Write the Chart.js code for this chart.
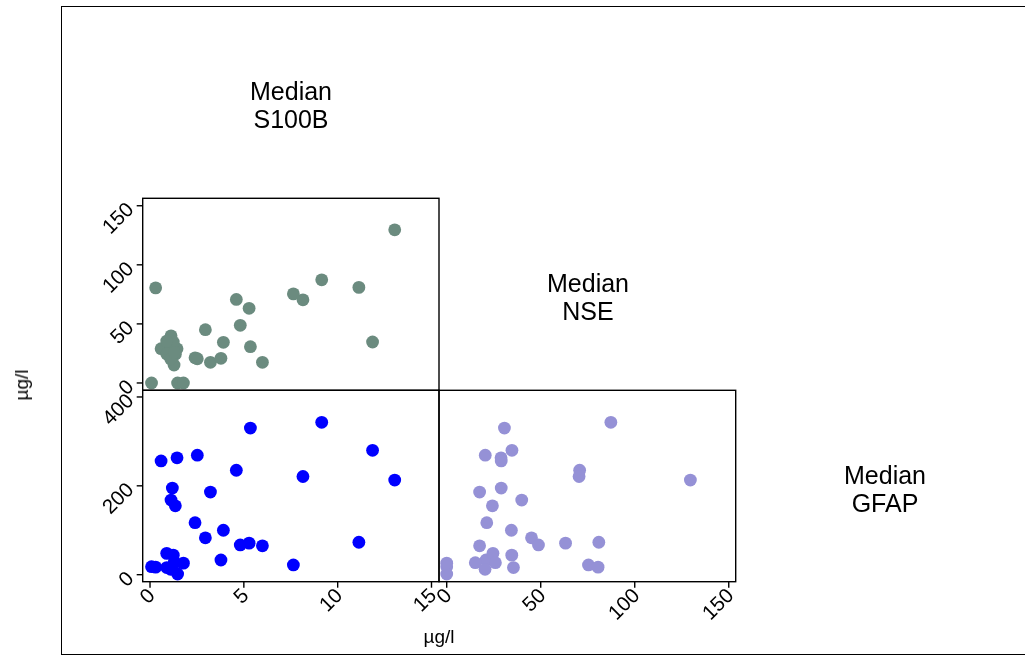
<!DOCTYPE html>
<html>
<head>
<meta charset="utf-8">
<script src="https://cdn.jsdelivr.net/npm/chart.js@4/dist/chart.umd.min.js"></script>
<style>
  html, body { margin: 0; padding: 0; background: #fff; }
  #wrap { position: relative; width: 1025px; height: 655px; overflow: hidden; font-family: "Liberation Sans", Arial, sans-serif; }
  #wrap canvas { position: absolute; left: 0; top: 0; }
  .frame { position: absolute; left: 61px; top: 6px; width: 1100px; height: 649px; border: 1.5px solid #000; box-sizing: border-box; }
  .diag { position: absolute; width: 200px; text-align: center; font-size: 25px; line-height: 28px; color: #000; }
  .axt { position: absolute; font-size: 19px; color: #000; white-space: nowrap; }
</style>
</head>
<body>
<div id="wrap">
  <div class="frame"></div>
  <canvas id="pA" width="1025" height="655"></canvas>
  <canvas id="pB" width="1025" height="655"></canvas>
  <canvas id="pC" width="1025" height="655"></canvas>
  <div class="diag" style="left:191px; top:77px;">Median<br>S100B</div>
  <div class="diag" style="left:488px; top:269px;">Median<br>NSE</div>
  <div class="diag" style="left:785px; top:461px;">Median<br>GFAP</div>
  <div class="axt" style="left:22px; top:385px; transform: translate(-50%, -50%) rotate(-90deg);">µg/l</div>
  <div class="axt" style="left:439px; top:637px; transform: translate(-50%, -50%);">µg/l</div>
</div>
<script>
// per-patient medians, µg/l
const s100b = [9.15, 5.35, 11.86, 2.52, 1.44, 0.59, 4.6, 8.15, 13.04, 1.19, 3.22, 1.12, 1.35, 2.4, 3.91, 2.95,
  4.81, 5.28, 5.99, 11.13, 3.78, 7.64, 0.08, 1.47, 1.78, 0.3, 0.89, 1.24, 1.28, 0.89, 1.1, 1.3];
const nse = [87.3, 30.7, 34.7, 20.5, 28.9, 29.0, 70.7, 70.4, 129.6, 29.0, 17.5, 39.9, 24.3, 21.3, 34.4, 45.1,
  48.8, 63.2, 17.5, 80.9, 20.9, 75.4, 0, 0, 0, 80.5, 24.6, 34.6, 15.2, 35.5, 20.4, 25.9];
const gfap = [343, 330, 280, 269, 263, 256, 235, 221, 213, 195, 186, 168, 155, 117, 100, 83,
  67, 71, 65, 73, 33, 22, 18, 1.5, 26, 17, 48, 44, 27, 16, 12, 27];

const s100bTicks = [0, 5, 10, 15];
const nseTicks = [0, 50, 100, 150];
const gfapTicks = [0, 200, 400];

const pairs = (xs, ys) => xs.map((v, i) => ({ x: v, y: ys[i] }));

// box, tick marks and 45° tick labels for each panel
const panelAxes = {
    id: "panelAxes",
    afterDatasetsDraw(chart, args, opts) {
        const ctx = chart.ctx;
        const a = chart.chartArea;
        const xs = chart.scales.x;
        const ys = chart.scales.y;
        ctx.save();
        ctx.strokeStyle = "#000";
        ctx.lineWidth = 1.4;
        ctx.strokeRect(a.left, a.top, a.right - a.left, a.bottom - a.top);
        ctx.fillStyle = "#000";
        ctx.font = "20.5px 'Liberation Sans', Arial, sans-serif";
        ctx.textAlign = "right";
        ctx.textBaseline = "middle";
        (opts.xTicks || []).forEach((t) => {
            const px = xs.getPixelForValue(t);
            ctx.beginPath();
            ctx.moveTo(px, a.bottom);
            ctx.lineTo(px, a.bottom + 6);
            ctx.stroke();
            ctx.save();
            ctx.translate(px + 2, a.bottom + 11);
            ctx.rotate(-Math.PI / 4);
            ctx.fillText(String(t), 0, 0);
            ctx.restore();
        });
        (opts.yTicks || []).forEach((t) => {
            const py = ys.getPixelForValue(t);
            ctx.beginPath();
            ctx.moveTo(a.left - 6, py);
            ctx.lineTo(a.left, py);
            ctx.stroke();
            ctx.save();
            ctx.translate(a.left - 12, py + 1);
            ctx.rotate(-Math.PI / 4);
            ctx.fillText(String(t), 0, 0);
            ctx.restore();
        });
        ctx.restore();
    },
};

function panel(id, data, color, xRange, yRange, pad, xTicks, yTicks) {
    return new Chart(document.getElementById(id), {
        type: "scatter",
        data: {
            datasets: [{
                data: data,
                backgroundColor: color,
                borderWidth: 0,
                pointRadius: 6.4,
                pointHoverRadius: 6.4,
                clip: false,
            }],
        },
        options: {
            responsive: false,
            animation: false,
            events: [],
            layout: { padding: pad },
            plugins: {
                legend: { display: false },
                tooltip: { enabled: false },
                panelAxes: { xTicks: xTicks, yTicks: yTicks },
            },
            scales: {
                x: { type: "linear", display: false, min: xRange[0], max: xRange[1] },
                y: { type: "linear", display: false, min: yRange[0], max: yRange[1] },
            },
        },
        plugins: [panelAxes],
    });
}

const sRange = [-0.39, 15.4];
const nRangeY = [-6.2, 156.3];
const nRangeX = [-4.1, 153.7];
const gRange = [-15.8, 415];

panel("pA", pairs(s100b, nse), "#6b8b7f", sRange, nRangeY,
    { left: 142.7, right: 1025 - 439, top: 198.3, bottom: 655 - 390.3 }, [], nseTicks);
panel("pB", pairs(s100b, gfap), "#0000ff", sRange, gRange,
    { left: 142.7, right: 1025 - 439, top: 390.3, bottom: 655 - 581.7 }, s100bTicks, gfapTicks);
panel("pC", pairs(nse, gfap), "#9591d6", nRangeX, gRange,
    { left: 439, right: 1025 - 735.7, top: 390.3, bottom: 655 - 581.7 }, nseTicks, []);
</script>
</body>
</html>
